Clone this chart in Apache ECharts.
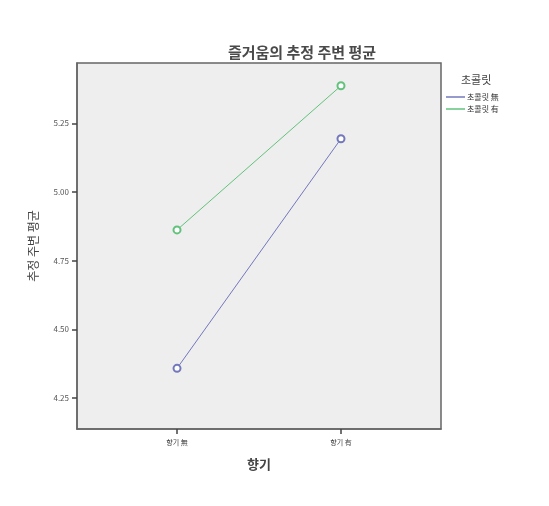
<!DOCTYPE html>
<html style="height: 100%" lang="ko">
    <head>
        <title>즐거움의 추정 주변 평균</title>
        <meta charset="utf-8">
        <script src="https://cdn.jsdelivr.net/npm/echarts@6/dist/echarts.min.js"></script>
    </head>
    <body style="height: 100%; margin: 0; background: #fff">
        <div id="container" style="width: 549px; height: 506px"></div>
        <script type="text/javascript">
        // 데이터
        var xLabels = ['향기 無', '향기 有'];
        var xPos = [0, 1];
        var groups = ['초콜릿 無', '초콜릿 有'];
        var noChoco = [4.358, 5.194];
        var withChoco = [4.862, 5.387];
        var yTicks = [4.25, 4.50, 4.75, 5.00, 5.25];
        var colors = ['#7378bd', '#62c27c'];

        var font = "'Noto Sans CJK KR', sans-serif";
        var myChart = echarts.init(document.getElementById('container'));

        function pairs(vals) {
            return vals.map(function (v, i) { return [xPos[i], v]; });
        }

        var frameLine = { show: true, onZero: false, lineStyle: { color: '#666', width: 1.5 } };
        var tickStyle = { color: '#444', width: 1.5 };

        var option = {
            animation: false,
            textStyle: { fontFamily: font },
            title: [{
                text: '즐거움의 추정 주변 평균',
                left: 297,
                textAlign: 'center',
                top: 40,
                textStyle: { fontSize: 15, fontWeight: 'bold', color: '#4a4a4a', fontFamily: font }
            }, {
                text: '초콜릿',
                left: 456,
                top: 69,
                textStyle: { fontSize: 11, fontWeight: 'normal', color: '#444', fontFamily: font }
            }],
            legend: {
                orient: 'vertical',
                left: 441,
                top: 88,
                itemWidth: 19,
                itemHeight: 1.5,
                itemGap: 4,
                icon: 'rect',
                data: groups,
                textStyle: { fontSize: 8, color: '#333', padding: [0, 0, 0, -3] }
            },
            grid: {
                left: 77, right: 108, top: 63, bottom: 77,
                show: true,
                backgroundColor: '#eeeeee',
                borderColor: '#666',
                borderWidth: 1.5
            },
            xAxis: {
                type: 'value',
                min: -0.61,
                max: 1.61,
                name: '향기',
                nameLocation: 'middle',
                nameGap: 29,
                nameTextStyle: { fontSize: 13, fontWeight: 'bold', color: '#444' },
                axisLine: frameLine,
                splitLine: { show: false },
                axisTick: { show: true, customValues: xPos, length: 5, lineStyle: tickStyle },
                axisLabel: {
                    customValues: xPos,
                    fontSize: 7, color: '#444', margin: 10,
                    formatter: function (v) { return xLabels[Math.round(v)]; }
                }
            },
            yAxis: {
                type: 'value',
                min: 4.137,
                max: 5.47,
                name: '추정 주변 평균',
                nameLocation: 'middle',
                nameGap: 38,
                nameTextStyle: { fontSize: 12, color: '#444' },
                axisLine: frameLine,
                splitLine: { show: false },
                axisTick: { show: true, customValues: yTicks, length: 5, lineStyle: tickStyle },
                axisLabel: {
                    customValues: yTicks,
                    fontSize: 8, color: '#555', margin: 8,
                    formatter: function (v) { return v.toFixed(2); }
                }
            },
            series: [{
                name: groups[0],
                type: 'line',
                data: pairs(noChoco),
                symbol: 'emptyCircle',
                symbolSize: 7,
                itemStyle: { color: colors[0], borderWidth: 1 },
                lineStyle: { width: 1, color: colors[0] }
            }, {
                name: groups[1],
                type: 'line',
                data: pairs(withChoco),
                symbol: 'emptyCircle',
                symbolSize: 7,
                itemStyle: { color: colors[1], borderWidth: 1 },
                lineStyle: { width: 1, color: colors[1] }
            }]
        };
        myChart.setOption(option);
        </script>
    </body>
</html>
